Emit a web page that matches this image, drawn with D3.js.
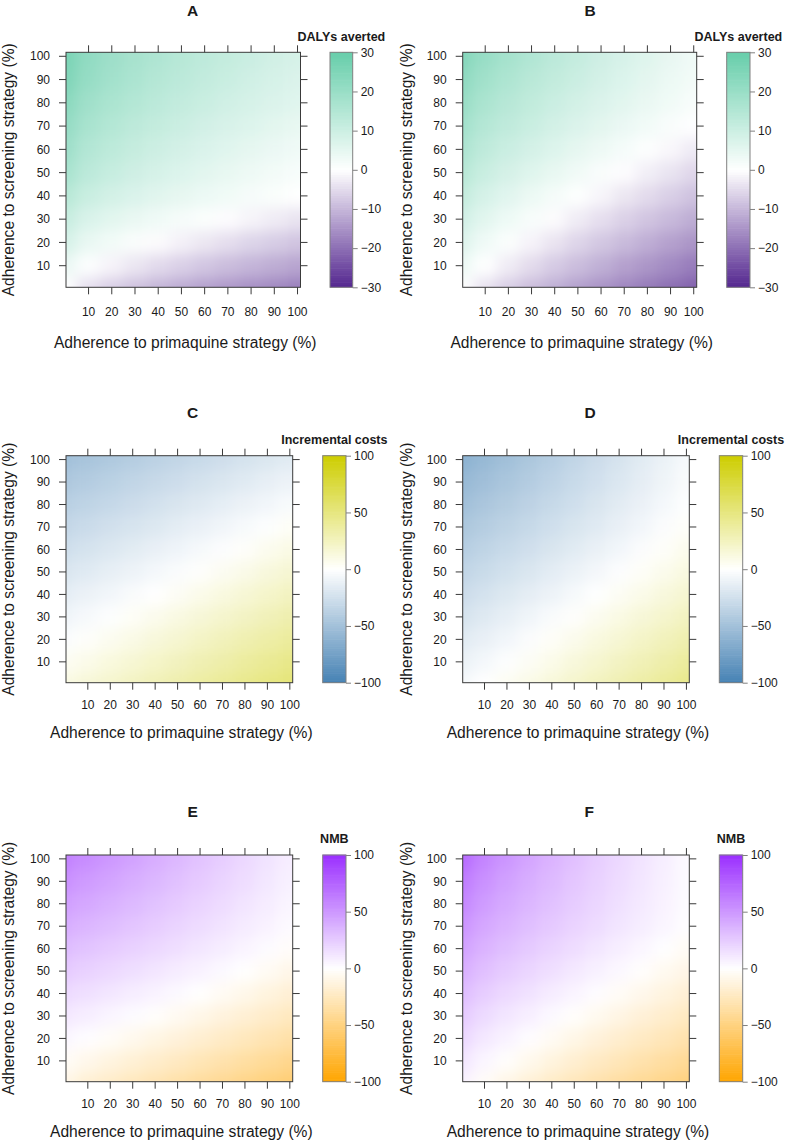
<!DOCTYPE html>
<html>
<head>
<meta charset="utf-8">
<script src="https://cdn.jsdelivr.net/npm/d3@7"></script>
<style>
  body { margin: 0; background: #fff; }
  svg { display: block; }
  text { font-family: "Liberation Sans", Arial, Helvetica, sans-serif; fill: #1a1a1a; }
</style>
</head>
<body>
<svg id="chart" width="790" height="1142"></svg>
<script>
// ---------------- data ----------------
const primaquineAdherence = [0, 10, 20, 30, 40, 50, 60, 70, 80, 90, 100];   // x grid (%)
const screeningAdherence  = [0, 10, 20, 30, 40, 50, 60, 70, 80, 90, 100];   // y grid (%), rows below
const axisTicks = [10, 20, 30, 40, 50, 60, 70, 80, 90, 100];

// rows: screening 0 -> 100 ; columns: primaquine 0 -> 100
const dalysA = [
  [0, -4.4, -6.6, -8.5, -10.1, -11.5, -12.9, -14.1, -15.3, -16.4, -17.5],
  [4, 0.5, -1.6, -3.5, -5.1, -6.5, -7.9, -9.1, -10.3, -11.4, -12.5],
  [8, 4.4, 2.5, 1.0, -0.5, -2.0, -3.4, -4.6, -5.9, -7.0, -8.1],
  [11, 7.5, 5.7, 4.2, 2.9, 1.8, 0.7, -0.4, -1.5, -2.6, -3.8],
  [14, 10.5, 8.7, 7.2, 5.9, 4.8, 3.7, 2.7, 1.8, 0.9, 0],
  [17, 13.1, 11.1, 9.5, 8.1, 6.8, 5.6, 4.5, 3.4, 2.4, 1.5],
  [19, 15.0, 12.9, 11.2, 9.8, 8.4, 7.2, 6.1, 5.0, 4.0, 3],
  [21, 16.9, 14.7, 13.0, 11.5, 10.1, 8.9, 7.7, 6.6, 5.5, 4.5],
  [23, 18.7, 16.5, 14.7, 13.2, 11.8, 10.5, 9.3, 8.1, 7.0, 6],
  [25, 20.5, 18.1, 16.3, 14.6, 13.1, 11.8, 10.5, 9.3, 8.1, 7],
  [26, 21.5, 19.1, 17.3, 15.6, 14.1, 12.8, 11.5, 10.3, 9.1, 8]
];
const dalysB = [
  [0, -4.0, -6.7, -9.0, -11.0, -13.1, -14.9, -16.7, -18.4, -20.0, -21.6],
  [3.5, 0.1, -2.6, -5.0, -7.2, -9.2, -11.0, -13.0, -14.6, -16.3, -18],
  [6.5, 3.0, 0.7, -1.6, -3.7, -5.8, -7.7, -9.5, -11.3, -13.0, -14.6],
  [9, 5.6, 3.3, 1.3, -0.6, -2.6, -4.4, -6.4, -8.0, -9.7, -11.4],
  [11.5, 8.1, 5.8, 3.8, 2.0, 0.3, -1.4, -3.4, -5.0, -6.7, -8.4],
  [14, 10.5, 8.3, 6.3, 4.5, 2.8, 1.2, -0.4, -2.2, -3.8, -5.5],
  [16, 12.6, 10.3, 8.4, 6.6, 5.0, 3.4, 1.9, 0.4, -1.1, -2.8],
  [18, 14.6, 12.4, 10.5, 8.7, 7.1, 5.5, 4.0, 2.6, 1.2, -0.1],
  [20, 16.5, 14.2, 12.2, 10.4, 8.7, 7.1, 5.6, 4.1, 2.7, 1.3],
  [22, 18.3, 15.9, 13.8, 11.9, 10.1, 8.4, 6.8, 5.3, 3.8, 2.3],
  [24, 20.1, 17.5, 15.3, 13.2, 11.3, 9.5, 7.8, 6.2, 4.6, 3]
];
const costsC = [
  [11.5, 15.6, 19.8, 23.9, 28.1, 32.2, 36.3, 40.5, 44.6, 48.8, 52.9],
  [4.6, 8.7, 12.9, 16.9, 21.0, 25.2, 29.3, 33.5, 37.5, 41.6, 45.8],
  [-2, 1.8, 5.9, 10.0, 14.0, 18.2, 22.3, 26.3, 30.5, 34.5, 38.6],
  [-8, -4.5, -0.9, 3.0, 7.1, 11.2, 15.2, 19.3, 23.3, 27.5, 31.5],
  [-14, -10.5, -7.0, -3.4, 0.1, 4.1, 8.2, 12.2, 16.3, 20.4, 24.4],
  [-20, -16.5, -13, -9.5, -6, -2.5, 1.2, 5.2, 9.2, 13.2, 17.3],
  [-26, -22.5, -19.0, -15.6, -12.1, -8.6, -5.1, -1.6, 2.1, 6.1, 10.1],
  [-32, -28.5, -25.1, -21.6, -18.2, -14.7, -11.2, -7.8, -4.3, -0.9, 3.0],
  [-38, -34.6, -31.1, -27.7, -24.2, -20.8, -17.4, -13.9, -10.5, -7.0, -3.6],
  [-44, -40.6, -37.2, -33.7, -30.3, -26.9, -23.5, -20.1, -16.6, -13.2, -9.8],
  [-50, -46.6, -43.2, -39.8, -36.4, -33, -29.6, -26.2, -22.8, -19.4, -16]
];
const costsD = [
  [-5, 0, 5, 10, 15, 20, 25, 30, 35, 40, 45],
  [-10.7, -5.8, -1.0, 3.9, 8.8, 13.7, 18.5, 23.4, 28.3, 33.1, 38],
  [-16.4, -11.7, -6.9, -2.2, 2.6, 7.3, 12.0, 16.8, 21.5, 26.3, 31],
  [-22.1, -17.4, -12.8, -8.1, -3.5, 1.2, 5.9, 10.5, 15.2, 19.8, 24.5],
  [-27.8, -23.2, -18.6, -14.1, -9.5, -4.9, -0.3, 4.3, 8.8, 13.4, 18],
  [-33.5, -29.0, -24.4, -19.9, -15.3, -10.8, -6.2, -1.7, 2.9, 7.5, 12],
  [-39.2, -34.6, -30.0, -25.3, -20.7, -16.1, -11.5, -6.9, -2.2, 2.4, 7],
  [-44.9, -40.2, -35.4, -30.7, -25.9, -21.2, -16.5, -11.7, -7.0, -2.2, 2.5],
  [-50.6, -45.6, -40.7, -35.7, -30.8, -25.8, -20.8, -15.9, -10.9, -6.0, -1],
  [-56.3, -51.0, -45.7, -40.5, -35.2, -29.9, -24.6, -19.3, -14.1, -8.8, -3.5],
  [-62, -56.3, -50.6, -44.9, -39.2, -33.5, -27.8, -22.1, -16.4, -10.7, -5]
];
const nmbE = [
  [-10, -17.2, -21.3, -25.5, -29.6, -33.8, -38.0, -42.1, -46.3, -50.4, -54.6],
  [-3, -7.9, -12.0, -16.0, -20.0, -24.1, -28.1, -32.1, -36.1, -40.2, -44.2],
  [4, 1, -2.6, -6.5, -10.4, -14.3, -18.2, -22.1, -26, -29.9, -33.8],
  [11, 8, 5, 2, -1.3, -5.2, -9.1, -13, -16.9, -20.8, -24.7],
  [18, 15.0, 11.9, 8.9, 5.8, 2.8, -0.4, -4.4, -8.3, -12.4, -16.3],
  [25, 21.9, 18.7, 15.6, 12.4, 9.3, 6.1, 3.0, -0.3, -4.4, -8.5],
  [32, 28.7, 25.3, 22.0, 18.6, 15.3, 11.9, 8.6, 5.2, 1.9, -2.0],
  [39, 35.4, 31.7, 28.1, 24.4, 20.8, 17.1, 13.5, 9.8, 6.2, 2.5],
  [46, 41.9, 37.8, 33.7, 29.6, 25.5, 21.4, 17.3, 13.2, 9.1, 5],
  [53, 48.4, 43.8, 39.2, 34.6, 30, 25.4, 20.8, 16.2, 11.6, 7],
  [60, 54.9, 49.7, 44.6, 39.4, 34.3, 29.1, 24.0, 18.8, 13.7, 8.5]
];
const nmbF = [
  [6, -2.8, -9.8, -15.8, -21.4, -26.8, -31.8, -36.5, -41.1, -45.6, -50],
  [12.5, 4.5, -1.3, -7.1, -12.6, -17.9, -22.8, -27.4, -32.0, -36.4, -40.6],
  [19, 11.1, 5.7, 1.0, -4.3, -9.4, -14.1, -18.8, -23.3, -27.6, -31.9],
  [25.5, 17.6, 12.2, 7.5, 3.1, -1.3, -6.0, -10.6, -15.1, -19.5, -23.8],
  [32, 24.0, 18.5, 13.8, 9.4, 5.2, 1.3, -3.0, -7.6, -12.0, -16.3],
  [38.5, 30.3, 24.7, 19.8, 15.3, 11.0, 7.0, 3.2, -0.8, -5.3, -9.6],
  [45, 36.5, 30.6, 25.6, 20.9, 16.4, 12.3, 8.3, 4.4, 0.6, -3.8],
  [51.5, 42.5, 36.3, 31.0, 26.0, 21.3, 16.9, 12.7, 8.6, 4.7, 0.8],
  [58, 48.0, 41.3, 35.3, 29.8, 24.7, 19.8, 15.2, 10.6, 6.3, 2],
  [64, 53.1, 45.6, 39.1, 33.1, 27.5, 22.1, 17.0, 12.1, 7.3, 2.6],
  [72, 59.1, 50.6, 43.3, 36.5, 30.2, 24.3, 18.7, 13.3, 8.1, 3]
];

const keyTicksDalys = [-30, -20, -10, 0, 10, 20, 30];
const keyTicksMoney = [-100, -50, 0, 50, 100];
const keyDomainDalys = [-30, 30];
const keyDomainMoney = [-100, 100];
const panelLetters = ["A", "B", "C", "D", "E", "F"];
const keyTitles = ["DALYs averted", "DALYs averted", "Incremental costs", "Incremental costs", "NMB", "NMB"];
const xAxisTitle = "Adherence to primaquine strategy (%)";
const yAxisTitle = "Adherence to screening strategy (%)";

// ---------------- styles / layout ----------------
const palettes = {
  dalys: ["#54278F", "#FFFFFF", "#66CDAA"],
  money: ["#4682B4", "#FFFFFF", "#CDCD00"],
  nmb:   ["#FFA500", "#FFFFFF", "#9B30FF"]
};
const rows = [
  { top: 52.3, bottom: 287.3, titleY: 15.5, keyTitleY: 40.7, tickLabY: 316, xLabY: 348 },
  { top: 455.7, bottom: 682.7, titleY: 418, keyTitleY: 444, tickLabY: 708.6, xLabY: 737.5 },
  { top: 855, bottom: 1081.7, titleY: 817, keyTitleY: 843.3, tickLabY: 1107.6, xLabY: 1136.5 }
];
const cols = [
  [ { x0: 66, x1: 300.5, k0: 330, k1: 352.7, titleX: 192.7, yLabX: 14 },
    { x0: 462.7, x1: 696.7, k0: 726.7, k1: 750, titleX: 590, yLabX: 412 } ],
  [ { x0: 66, x1: 292.7, k0: 322.7, k1: 346, titleX: 192.7, yLabX: 14 },
    { x0: 462.7, x1: 689.3, k0: 719.3, k1: 742.7, titleX: 590, yLabX: 412 } ],
  [ { x0: 66, x1: 292.7, k0: 322.7, k1: 346, titleX: 192.7, yLabX: 14 },
    { x0: 462.7, x1: 689.3, k0: 719.3, k1: 742.7, titleX: 589.3, yLabX: 412 } ]
];
const panelData = [dalysA, dalysB, costsC, costsD, nmbE, nmbF];
const panelPal = ["dalys", "dalys", "money", "money", "nmb", "nmb"];
const panelDomain = [keyDomainDalys, keyDomainDalys, keyDomainMoney, keyDomainMoney, keyDomainMoney, keyDomainMoney];
const panelKeyTicks = [keyTicksDalys, keyTicksDalys, keyTicksMoney, keyTicksMoney, keyTicksMoney, keyTicksMoney];

const frameCol = "#3a3a3a";
const keyLineCol = "#808080";
const svg = d3.select("#chart");
const defs = svg.append("defs");
defs.append("filter").attr("id", "smooth")
  .attr("x", "-5%").attr("y", "-5%").attr("width", "110%").attr("height", "110%")
  .append("feGaussianBlur").attr("stdDeviation", 7);

panelData.forEach((grid, p) => {
  const r = Math.floor(p / 2), c = p % 2;
  const R = rows[r], C = cols[r][c];
  const x = d3.scaleLinear().domain([0.5, 101.5]).range([C.x0, C.x1]);
  const y = d3.scaleLinear().domain([0.5, 101.5]).range([R.bottom, R.top]);
  const dom = panelDomain[p];
  const pal = palettes[panelPal[p]];
  const color = d3.scaleLinear().domain([dom[0], 0, dom[1]]).range(pal).clamp(true);

  const clipId = "clip" + p;
  defs.append("clipPath").attr("id", clipId).append("rect")
    .attr("x", C.x0).attr("y", R.top).attr("width", C.x1 - C.x0).attr("height", R.bottom - R.top);

  const g = svg.append("g");
  const cellsG = g.append("g").attr("clip-path", `url(#${clipId})`)
    .append("g").attr("filter", "url(#smooth)");

  const span = (arr, i) => {
    let lo = arr[i] - 5, hi = arr[i] + 5;
    if (i === 0) lo -= 15;
    if (i === arr.length - 1) hi += 15;
    return [lo, hi];
  };
  const cells = [];
  grid.forEach((row, j) => row.forEach((v, i) => cells.push({ i, j, v })));
  cellsG.selectAll("rect").data(cells).join("rect")
    .attr("x", d => x(span(primaquineAdherence, d.i)[0]))
    .attr("width", d => x(span(primaquineAdherence, d.i)[1]) - x(span(primaquineAdherence, d.i)[0]) + 0.5)
    .attr("y", d => y(span(screeningAdherence, d.j)[1]))
    .attr("height", d => y(span(screeningAdherence, d.j)[0]) - y(span(screeningAdherence, d.j)[1]) + 0.5)
    .attr("fill", d => color(d.v));

  const tl = 7;
  const axB = d3.axisBottom(x).tickValues(axisTicks).tickSize(tl).tickPadding(3);
  const axL = d3.axisLeft(y).tickValues(axisTicks).tickSize(tl).tickPadding(8);
  const axT = d3.axisTop(x).tickValues(axisTicks).tickSize(tl).tickFormat("");
  const axR = d3.axisRight(y).tickValues(axisTicks).tickSize(tl).tickFormat("");
  const styleAxis = sel => {
    sel.select(".domain").remove();
    sel.selectAll("line").attr("stroke", frameCol);
    sel.selectAll("text").attr("font-size", 12).attr("fill", "#1a1a1a")
      .style("font-family", '"Liberation Sans", Arial, sans-serif');
  };
  const gB = g.append("g").attr("transform", `translate(0,${R.bottom})`).call(axB).call(styleAxis);
  gB.selectAll("text").attr("dy", null).attr("y", R.tickLabY - R.bottom);
  g.append("g").attr("transform", `translate(${C.x0},0)`).call(axL).call(styleAxis)
    .selectAll("text").attr("x", -16).attr("dy", "0.35em");
  g.append("g").attr("transform", `translate(0,${R.top})`).call(axT).call(styleAxis);
  g.append("g").attr("transform", `translate(${C.x1},0)`).call(axR).call(styleAxis);

  g.append("rect").attr("x", C.x0).attr("y", R.top)
    .attr("width", C.x1 - C.x0).attr("height", R.bottom - R.top)
    .attr("fill", "none").attr("stroke", frameCol).attr("stroke-width", 1);

  g.append("text").attr("x", C.titleX).attr("y", R.titleY)
    .attr("text-anchor", "middle").attr("font-size", 15.5).attr("font-weight", "bold")
    .text(panelLetters[p]);
  g.append("text").attr("x", (C.x0 + C.x1) / 2 + 2).attr("y", R.xLabY)
    .attr("text-anchor", "middle").attr("font-size", 15.6)
    .text(xAxisTitle);
  g.append("text").attr("transform", `translate(${C.yLabX},${(R.top + R.bottom) / 2}) rotate(-90)`)
    .attr("text-anchor", "middle").attr("font-size", 15.6)
    .text(yAxisTitle);

  // colour key
  const ky = d3.scaleLinear().domain(dom).range([R.bottom, R.top]);
  const steps = d3.range(100).map(k => dom[0] + (k + 0.5) * (dom[1] - dom[0]) / 100);
  const stepH = (R.bottom - R.top) / 100;
  const kg = g.append("g");
  kg.selectAll("rect").data(steps).join("rect")
    .attr("x", C.k0).attr("width", C.k1 - C.k0)
    .attr("y", d => ky(d) - stepH / 2 - 0.3).attr("height", stepH + 0.6)
    .attr("fill", d => color(d));
  kg.append("rect").attr("x", C.k0).attr("y", R.top).attr("width", C.k1 - C.k0)
    .attr("height", R.bottom - R.top).attr("fill", "none").attr("stroke", keyLineCol);
  const axK = d3.axisRight(ky).tickValues(panelKeyTicks[p]).tickSize(5).tickPadding(3);
  kg.append("g").attr("transform", `translate(${C.k1},0)`).call(axK)
    .call(sel => {
      sel.select(".domain").remove();
      sel.selectAll("line").attr("stroke", keyLineCol);
      sel.selectAll("text").attr("font-size", 12).attr("fill", "#1a1a1a")
        .style("font-family", '"Liberation Sans", Arial, sans-serif');
    });
  kg.append("text").attr("x", (C.k0 + C.k1) / 2).attr("y", R.keyTitleY)
    .attr("text-anchor", "middle").attr("font-size", 12.5).attr("font-weight", "bold")
    .text(keyTitles[p]);
});
</script>
</body>
</html>
